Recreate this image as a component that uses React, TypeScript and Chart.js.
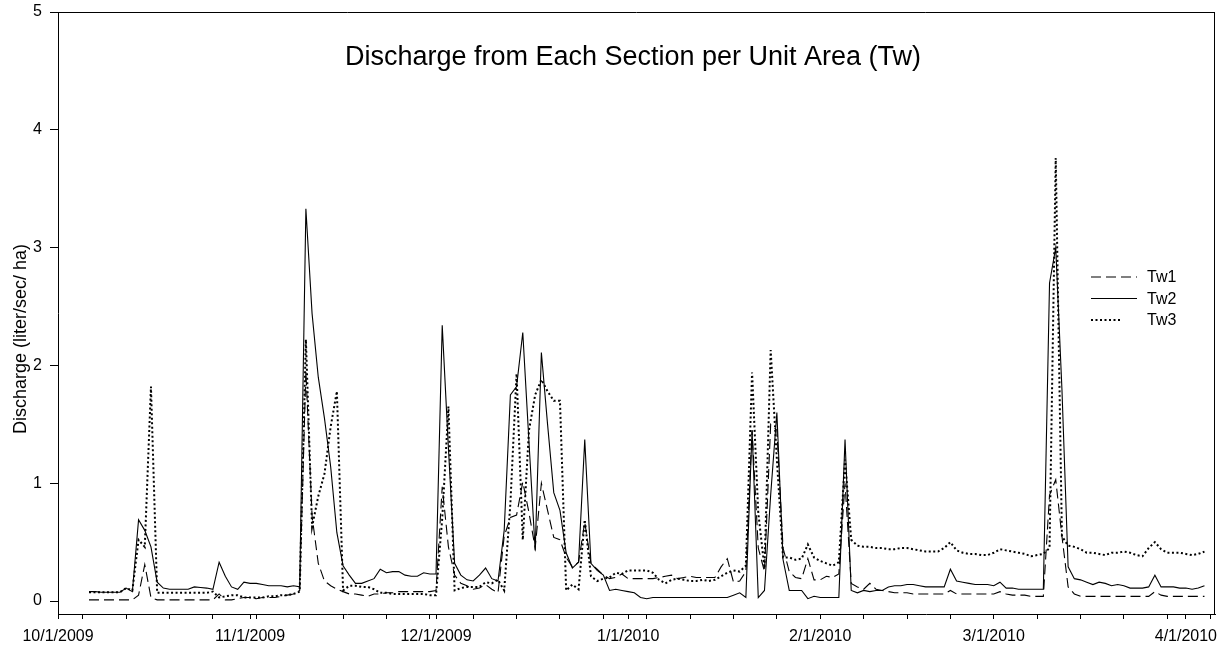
import React, { useEffect, useRef } from "react";
import { Chart, registerables } from "chart.js";

Chart.register(...registerables);

// Days are counted from 10/1/2009 (day 0); the series start on 10/6/2009.
const FIRST_DAY = 5;
const X_MAX_DAY = 186.7;

const monthTickDays = [0, 31, 61, 92, 123, 151, 182];
const monthTickLabels = ["10/1/2009", "11/1/2009", "12/1/2009", "1/1/2010", "2/1/2010", "3/1/2010", "4/1/2010"];
const yTickValues = [0, 1, 2, 3, 4, 5];

const TITLE = "Discharge from Each Section per Unit Area (Tw)";
const Y_LABEL = "Discharge (liter/sec/ ha)";
const seriesNames = ["Tw1", "Tw2", "Tw3"];

const tw1 = [
  0.01, 0.01, 0.01, 0.01, 0.01, 0.01, 0.01, 0.01, 0.05, 0.31,
  0.03, 0.01, 0.01, 0.01, 0.01, 0.01, 0.01, 0.01, 0.01, 0.01,
  0.01, 0.06, 0.01, 0.01, 0.02, 0.03, 0.03, 0.02, 0.03, 0.03,
  0.03, 0.04, 0.05, 0.06, 0.09, 1.95, 0.72, 0.32, 0.17, 0.13,
  0.10, 0.08, 0.06, 0.06, 0.05, 0.04, 0.06, 0.06, 0.07, 0.07,
  0.08, 0.08, 0.08, 0.08, 0.08, 0.08, 0.09, 0.97, 0.46, 0.22,
  0.15, 0.13, 0.10, 0.11, 0.14, 0.10, 0.07, 0.55, 0.71, 0.73,
  1.01, 0.75, 0.45, 1.00, 0.77, 0.54, 0.52, 0.37, 0.29, 0.33,
  0.67, 0.32, 0.27, 0.22, 0.19, 0.20, 0.23, 0.19, 0.19, 0.19,
  0.19, 0.19, 0.20, 0.21, 0.22, 0.19, 0.20, 0.21, 0.20, 0.20,
  0.20, 0.20, 0.29, 0.36, 0.16, 0.17, 0.25, 1.45, 0.45, 0.25,
  1.50, 1.45, 0.45, 0.25, 0.20, 0.19, 0.36, 0.18, 0.18, 0.21,
  0.20, 0.23, 1.00, 0.15, 0.12, 0.10, 0.15, 0.10, 0.09, 0.08,
  0.07, 0.07, 0.07, 0.06, 0.06, 0.06, 0.06, 0.06, 0.06, 0.09,
  0.06, 0.06, 0.06, 0.06, 0.06, 0.06, 0.06, 0.08, 0.06, 0.05,
  0.05, 0.05, 0.04, 0.04, 0.04, 0.90, 1.03, 0.55, 0.12, 0.06,
  0.04, 0.04, 0.04, 0.04, 0.04, 0.04, 0.04, 0.04, 0.04, 0.04,
  0.04, 0.04, 0.08, 0.05, 0.04, 0.04, 0.04, 0.04, 0.04, 0.04,
  0.04,
];

const tw2 = [
  0.08, 0.08, 0.075, 0.075, 0.075, 0.075, 0.11, 0.08, 0.69, 0.60,
  0.46, 0.16, 0.11, 0.10, 0.10, 0.10, 0.10, 0.12, 0.115, 0.11,
  0.10, 0.33, 0.21, 0.12, 0.10, 0.16, 0.15, 0.15, 0.14, 0.13,
  0.13, 0.13, 0.12, 0.13, 0.12, 3.33, 2.44, 1.90, 1.55, 1.14,
  0.58, 0.30, 0.22, 0.15, 0.15, 0.17, 0.19, 0.27, 0.24, 0.25,
  0.25, 0.22, 0.21, 0.21, 0.24, 0.23, 0.23, 2.34, 1.30, 0.32,
  0.22, 0.18, 0.17, 0.22, 0.28, 0.19, 0.17, 0.60, 1.75, 1.82,
  2.28, 1.35, 0.43, 2.11, 1.50, 0.92, 0.77, 0.41, 0.28, 0.33,
  1.37, 0.32, 0.26, 0.22, 0.09, 0.10, 0.09, 0.08, 0.07, 0.03,
  0.02, 0.03, 0.03, 0.03, 0.03, 0.03, 0.03, 0.03, 0.03, 0.03,
  0.03, 0.03, 0.03, 0.03, 0.05, 0.07, 0.03, 1.45, 0.03, 0.09,
  0.90, 1.60, 0.35, 0.09, 0.09, 0.09, 0.02, 0.04, 0.03, 0.03,
  0.03, 0.03, 1.37, 0.09, 0.07, 0.09, 0.08, 0.09, 0.09, 0.12,
  0.13, 0.13, 0.14, 0.14, 0.13, 0.12, 0.12, 0.12, 0.12, 0.27,
  0.17, 0.16, 0.15, 0.14, 0.14, 0.14, 0.13, 0.16, 0.11, 0.11,
  0.10, 0.10, 0.10, 0.10, 0.10, 2.70, 3.00, 1.80, 0.29, 0.19,
  0.18, 0.16, 0.14, 0.16, 0.15, 0.13, 0.14, 0.13, 0.11, 0.11,
  0.11, 0.12, 0.22, 0.12, 0.12, 0.12, 0.11, 0.11, 0.10, 0.11,
  0.13,
];

const tw3 = [
  0.075, 0.075, 0.075, 0.075, 0.075, 0.075, 0.11, 0.09, 0.52, 0.46,
  1.82, 0.07, 0.07, 0.07, 0.07, 0.07, 0.07, 0.07, 0.07, 0.07,
  0.08, 0.03, 0.04, 0.05, 0.05, 0.03, 0.03, 0.03, 0.03, 0.04,
  0.04, 0.05, 0.05, 0.06, 0.08, 2.22, 0.63, 0.89, 1.08, 1.48,
  1.78, 0.09, 0.13, 0.13, 0.12, 0.12, 0.10, 0.07, 0.07, 0.06,
  0.06, 0.06, 0.06, 0.06, 0.06, 0.05, 0.05, 0.70, 1.65, 0.09,
  0.11, 0.12, 0.12, 0.12, 0.16, 0.15, 0.18, 0.09, 0.83, 1.93,
  0.52, 1.45, 1.75, 1.88, 1.78, 1.70, 1.70, 0.09, 0.14, 0.10,
  0.69, 0.21, 0.17, 0.19, 0.20, 0.24, 0.23, 0.26, 0.26, 0.26,
  0.26, 0.24, 0.18, 0.15, 0.18, 0.19, 0.18, 0.17, 0.17, 0.18,
  0.17, 0.18, 0.21, 0.24, 0.26, 0.25, 0.30, 1.94, 0.75, 0.28,
  2.13, 1.20, 0.37, 0.37, 0.35, 0.36, 0.48, 0.37, 0.34, 0.32,
  0.30, 0.33, 1.20, 0.52, 0.47, 0.46, 0.46, 0.45, 0.45, 0.44,
  0.44, 0.45, 0.45, 0.44, 0.43, 0.42, 0.42, 0.42, 0.45, 0.50,
  0.43, 0.41, 0.40, 0.40, 0.39, 0.39, 0.41, 0.44, 0.43, 0.42,
  0.41, 0.40, 0.38, 0.39, 0.40, 0.45, 3.76, 0.55, 0.47, 0.46,
  0.44, 0.41, 0.41, 0.40, 0.39, 0.41, 0.41, 0.42, 0.41, 0.39,
  0.38, 0.45, 0.50, 0.44, 0.41, 0.41, 0.41, 0.40, 0.39, 0.40,
  0.42,
];

const FONT = '"Liberation Sans", Arial, Helvetica, sans-serif';

const lineStyles = [
  { width: 1.1, dash: [10, 5] },
  { width: 1.1, dash: [] as number[] },
  { width: 2, dash: [2, 2.5] },
];

const toPoints = (vals: number[]) => vals.map((v, i) => ({ x: FIRST_DAY + i, y: v }));

const decorPlugin = {
  id: "decor",
  afterDraw(chart: any) {
    const { ctx, chartArea: a } = chart;
    ctx.save();
    ctx.strokeStyle = "#000";
    ctx.lineWidth = 1;
    ctx.setLineDash([]);
    ctx.beginPath();
    ctx.moveTo(a.left, Math.round(a.top) + 0.5);
    ctx.lineTo(a.right, Math.round(a.top) + 0.5);
    ctx.moveTo(Math.round(a.right) - 0.5, a.top);
    ctx.lineTo(Math.round(a.right) - 0.5, a.bottom);
    ctx.stroke();

    ctx.fillStyle = "#000";
    ctx.font = `27px ${FONT}`;
    ctx.textAlign = "center";
    ctx.textBaseline = "alphabetic";
    ctx.fillText(TITLE, 633, 65);

    ctx.save();
    ctx.translate(21, 339);
    ctx.rotate(-Math.PI / 2);
    ctx.font = `18px ${FONT}`;
    ctx.textAlign = "center";
    ctx.textBaseline = "middle";
    ctx.fillText(Y_LABEL, 0, 0);
    ctx.restore();

    const rowY = [277, 298.5, 320];
    const sampleEnd = [1137, 1137, 1120];
    seriesNames.forEach((name, i) => {
      const st = lineStyles[i];
      ctx.beginPath();
      ctx.lineWidth = st.width;
      ctx.setLineDash(st.dash);
      ctx.moveTo(1091, rowY[i]);
      ctx.lineTo(sampleEnd[i], rowY[i]);
      ctx.stroke();
      ctx.setLineDash([]);
      ctx.font = `16px ${FONT}`;
      ctx.textAlign = "left";
      ctx.textBaseline = "middle";
      ctx.fillText(name, 1147, rowY[i] + 1);
    });
    ctx.restore();
  },
};

export default function App() {
  const canvasRef = useRef<HTMLCanvasElement | null>(null);

  useEffect(() => {
    if (!canvasRef.current) return;
    const seriesValues = [tw1, tw2, tw3];
    const minorDays: number[] = [];
    for (let d = 4; d <= 186; d += 7) minorDays.push(d);
    const xTickDays = Array.from(new Set([...monthTickDays, ...minorDays])).sort((p, q) => p - q);

    const chart = new Chart(canvasRef.current, {
      type: "line",
      data: {
        datasets: seriesNames.map((name, i) => ({
          label: name,
          data: toPoints(seriesValues[i]),
          borderColor: "#000",
          backgroundColor: "#000",
          borderWidth: lineStyles[i].width,
          borderDash: lineStyles[i].dash,
          pointRadius: 0,
          tension: 0,
          fill: false,
        })),
      },
      options: {
        animation: false,
        responsive: false,
        devicePixelRatio: 1,
        layout: { padding: { top: 12, right: 5, left: 0, bottom: 0 } },
        plugins: {
          legend: { display: false },
          title: { display: false },
          tooltip: { enabled: false },
        },
        scales: {
          x: {
            type: "linear",
            min: 0,
            max: X_MAX_DAY,
            afterBuildTicks: (scale: any) => {
              scale.ticks = xTickDays.map((v) => ({ value: v }));
            },
            afterFit: (scale: any) => {
              scale.height = 37;
              scale.paddingLeft = 0;
              scale.paddingRight = 0;
            },
            border: { display: true, color: "#000", width: 1 },
            grid: {
              drawOnChartArea: false,
              drawTicks: true,
              tickLength: 5,
              tickColor: "#000",
              tickWidth: 1,
            },
            ticks: {
              autoSkip: false,
              maxRotation: 0,
              minRotation: 0,
              padding: 8,
              color: "#000",
              font: { family: FONT, size: 16 },
              callback: (value: any) => {
                const idx = monthTickDays.indexOf(Number(value));
                return idx >= 0 ? monthTickLabels[idx] : "";
              },
            },
          },
          y: {
            type: "linear",
            min: -0.11,
            max: 5,
            afterBuildTicks: (scale: any) => {
              scale.ticks = yTickValues.map((v) => ({ value: v }));
            },
            afterFit: (scale: any) => {
              scale.width = 58;
              scale.paddingTop = 0;
              scale.paddingBottom = 0;
            },
            border: { display: true, color: "#000", width: 1 },
            grid: {
              drawOnChartArea: false,
              drawTicks: true,
              tickLength: 8,
              tickColor: "#000",
              tickWidth: 1,
            },
            ticks: {
              padding: 8,
              color: "#000",
              font: { family: FONT, size: 16 },
              callback: (value: any) => String(value),
            },
          },
        },
      },
      plugins: [decorPlugin],
    } as any);

    return () => chart.destroy();
  }, []);

  return (
    <div style={{ position: "fixed", left: 0, top: 0, width: 1220, height: 651, background: "#fff" }}>
      <canvas ref={canvasRef} width={1220} height={651} style={{ display: "block" }} />
    </div>
  );
}
